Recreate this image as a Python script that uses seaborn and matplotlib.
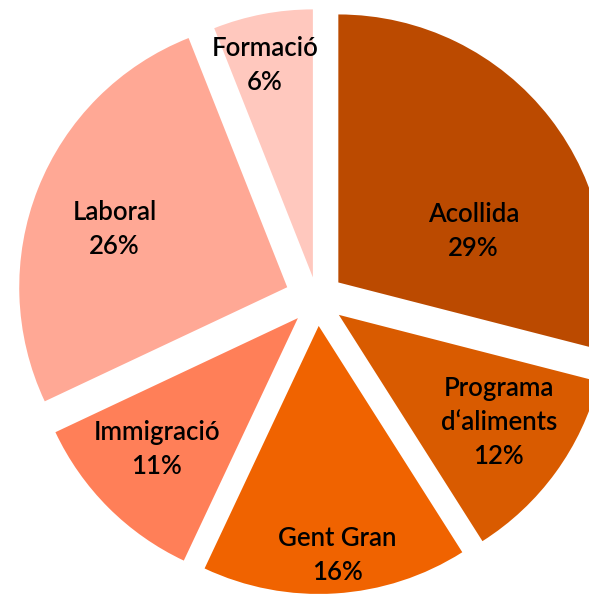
import numpy as np
import matplotlib
matplotlib.use('Agg')
import matplotlib.pyplot as plt
import seaborn as sns

# Chart data
categories = ['Acollida', 'Programa\nd\u2018aliments', 'Gent Gran', 'Immigració', 'Laboral', 'Formació']
shares = [29, 12, 16, 11, 26, 6]
colors = ['#BB4A00', '#D95B00', '#F06300', '#FF7F58', '#FFA895', '#FFC8BE']

# Layout (pixel units, y pointing down in the picture)
center_x, center_y = 317, 299
radius = 268
explode_px = [27, 27, 27, 27, 32, 22]
label_frac = [0.54, 0.72, 0.86, 0.72, 0.68, 0.81]
label_shift = [-17, 2, 1, -2, 3, 2]

sns.set_theme(style='white')
plt.rcParams['font.family'] = ['Lato', 'DejaVu Sans']

fig = plt.figure(figsize=(5.89, 5.96), dpi=100)
ax = fig.add_axes([0, 0, 1, 1])

labels = [f'{c}\n{s}%' for c, s in zip(categories, shares)]
# explode is in data units, so give it in pixels
wedges, _ = ax.pie(shares, colors=colors, startangle=90, counterclock=False,
                   explode=explode_px, radius=radius,
                   center=(center_x, -center_y), wedgeprops=dict(linewidth=0))

# Put the labels inside each wedge
for w, lab, frac, shift in zip(wedges, labels, label_frac, label_shift):
    mid = np.deg2rad((w.theta1 + w.theta2) / 2 + shift)
    cx, cy = w.center
    ax.text(cx + frac * radius * np.cos(mid), cy + frac * radius * np.sin(mid), lab,
            ha='center', va='center', fontsize=18.5, fontweight='semibold',
            color='black', linespacing=1.45)

ax.set_xlim(0, 589)
ax.set_ylim(-596, 0)
ax.set_aspect('equal')
ax.axis('off')

fig.savefig('out.png', dpi=100)
